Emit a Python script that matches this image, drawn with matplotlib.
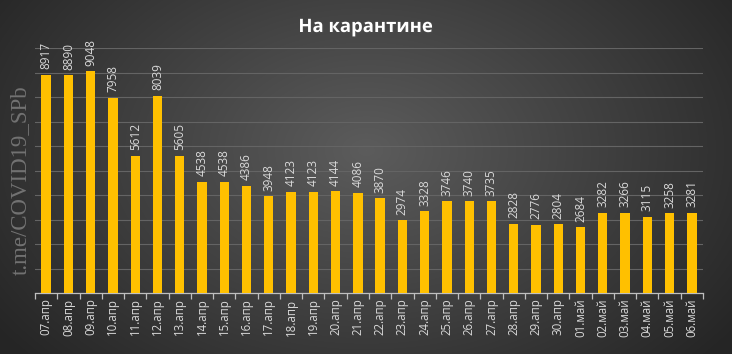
import matplotlib
matplotlib.use("Agg")
import matplotlib.pyplot as plt
import matplotlib.patheffects as pe
import numpy as np

dates = ["07.апр", "08.апр", "09.апр", "10.апр", "11.апр", "12.апр", "13.апр",
         "14.апр", "15.апр", "16.апр", "17.апр", "18.апр", "19.апр", "20.апр",
         "21.апр", "22.апр", "23.апр", "24.апр", "25.апр", "26.апр", "27.апр",
         "28.апр", "29.апр", "30.апр", "01.май", "02.май", "03.май", "04.май",
         "05.май", "06.май"]
values = [8917, 8890, 9048, 7958, 5612, 8039, 5605, 4538, 4538, 4386, 3948,
          4123, 4123, 4144, 4086, 3870, 2974, 3328, 3746, 3740, 3735, 2828,
          2776, 2804, 2684, 3282, 3266, 3115, 3258, 3281]

BAR = "#FFC000"
TXT = "#d9d9d9"
GRID = "#646464"

fig = plt.figure(figsize=(7.32, 3.54), dpi=100)

# radial background gradient
bg = fig.add_axes([0, 0, 1, 1], zorder=-10)
yy, xx = np.mgrid[0:354, 0:732]
r = np.sqrt(((xx - 366) / 366.0) ** 2 + ((yy - 150) / 250.0) ** 2) / 1.25
r = np.clip(r, 0, 1)
c0, c1 = 0x5c / 255, 0x25 / 255
img = c0 + (c1 - c0) * r
bg.imshow(np.dstack([img, img, img]), aspect="auto", extent=[0, 1, 0, 1])
bg.axis("off")

ax = fig.add_axes([35 / 732, 61 / 354, 668 / 732, 245 / 354])
ax.patch.set_alpha(0)
x = np.arange(len(values))
ax.bar(x, values, width=0.42, color=BAR, zorder=3)
ax.set_xlim(-0.5, len(values) - 0.5)
ax.set_ylim(0, 10000)
ax.set_yticks(np.arange(0, 10001, 1000))
ax.yaxis.grid(True, color=GRID, lw=0.8)
ax.tick_params(axis="y", length=0, labelleft=False)
for s in ["top", "right", "left"]:
    ax.spines[s].set_visible(False)
ax.spines["bottom"].set_color("#bfbfbf")
ax.spines["bottom"].set_linewidth(0.9)

ax.set_xticks(x)
ax.set_xticklabels(dates, rotation=90, color=TXT, fontsize=8.3, family="Open Sans")
ax.tick_params(axis="x", which="major", length=0, pad=4)
ax.set_xticks(np.arange(-0.5, len(values)), minor=True)
ax.tick_params(axis="x", which="minor", length=4, color="#bfbfbf", width=0.9)

for xi, v in zip(x, values):
    ax.annotate(str(v), (xi, v), xytext=(0, 4), textcoords="offset points",
                rotation=90, ha="center", va="bottom", color=TXT,
                fontsize=8.5, family="Open Sans")

fig.text(0.5, 1 - 27 / 354, "На карантине", ha="center", va="center",
         fontsize=13.3, fontweight="bold", color="white", family="Open Sans",
         path_effects=[pe.withSimplePatchShadow(offset=(1, -1), alpha=0.6)])

fig.text(20 / 732, 1 - 180 / 354, "t.me/COVID19_SPb", rotation=90,
         ha="center", va="center", fontsize=16.5, color="#727272",
         family="Liberation Serif")

fig.savefig("out.png", dpi=100)
